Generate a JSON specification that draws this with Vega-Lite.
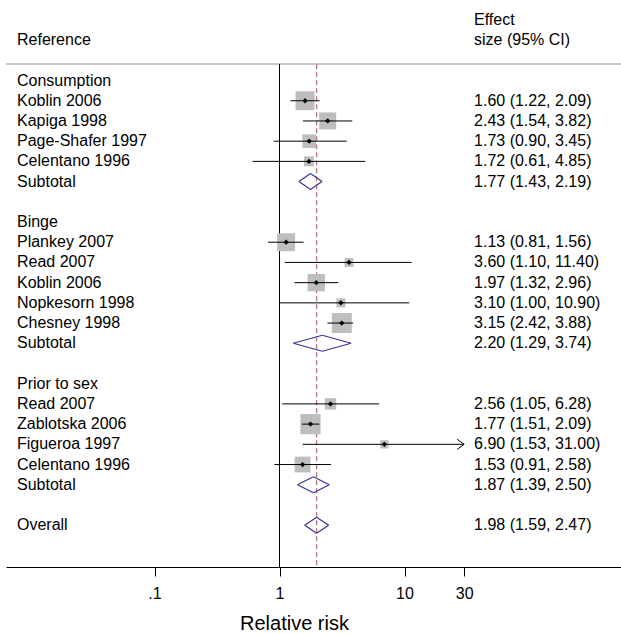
{
  "$schema": "https://vega.github.io/schema/vega-lite/v6.json",
  "width": 615,
  "height": 567,
  "autosize": {"type": "none"},
  "padding": {"left": 6, "top": 0, "right": 0, "bottom": 67},
  "background": "white",
  "config": {
    "view": {"stroke": null},
    "font": "Liberation Sans",
    "text": {"font": "Liberation Sans", "fontSize": 16, "color": "black"}
  },
  "data": {
    "values": [
      {"row": -3, "label": "", "right": "Effect", "type": "header"},
      {"row": -2, "label": "Reference", "right": "size (95% CI)", "type": "header"},
      {"row": 0, "label": "Consumption", "type": "group"},
      {"row": 1, "label": "Koblin 2006", "est": 1.60, "lo": 1.22, "hi": 2.09, "w": 3.6, "type": "study"},
      {"row": 2, "label": "Kapiga 1998", "est": 2.43, "lo": 1.54, "hi": 3.82, "w": 2.9, "type": "study"},
      {"row": 3, "label": "Page-Shafer 1997", "est": 1.73, "lo": 0.90, "hi": 3.45, "w": 1.9, "type": "study"},
      {"row": 4, "label": "Celentano 1996", "est": 1.72, "lo": 0.61, "hi": 4.85, "w": 1.0, "type": "study"},
      {"row": 5, "label": "Subtotal", "est": 1.77, "lo": 1.43, "hi": 2.19, "type": "pooled"},
      {"row": 7, "label": "Binge", "type": "group"},
      {"row": 8, "label": "Plankey 2007", "est": 1.13, "lo": 0.81, "hi": 1.56, "w": 3.2, "type": "study"},
      {"row": 9, "label": "Read 2007", "est": 3.60, "lo": 1.10, "hi": 11.40, "w": 0.8, "type": "study"},
      {"row": 10, "label": "Koblin 2006", "est": 1.97, "lo": 1.32, "hi": 2.96, "w": 3.0, "type": "study"},
      {"row": 11, "label": "Nopkesorn 1998", "est": 3.10, "lo": 1.00, "hi": 10.90, "w": 0.8, "type": "study"},
      {"row": 12, "label": "Chesney 1998", "est": 3.15, "lo": 2.42, "hi": 3.88, "w": 4.0, "type": "study"},
      {"row": 13, "label": "Subtotal", "est": 2.20, "lo": 1.29, "hi": 3.74, "type": "pooled"},
      {"row": 15, "label": "Prior to sex", "type": "group"},
      {"row": 16, "label": "Read 2007", "est": 2.56, "lo": 1.05, "hi": 6.28, "w": 1.3, "type": "study"},
      {"row": 17, "label": "Zablotska 2006", "est": 1.77, "lo": 1.51, "hi": 2.09, "w": 4.1, "type": "study"},
      {"row": 18, "label": "Figueroa 1997", "est": 6.90, "lo": 1.53, "hi": 31.00, "w": 0.7, "type": "study"},
      {"row": 19, "label": "Celentano 1996", "est": 1.53, "lo": 0.91, "hi": 2.58, "w": 2.5, "type": "study"},
      {"row": 20, "label": "Subtotal", "est": 1.87, "lo": 1.39, "hi": 2.50, "type": "pooled"},
      {"row": 22, "label": "Overall", "est": 1.98, "lo": 1.59, "hi": 2.47, "type": "overall"}
    ]
  },
  "transform": [
    {"calculate": "isValid(datum.est) ? format(datum.est, '.2f') + ' (' + format(datum.lo, '.2f') + ', ' + format(datum.hi, '.2f') + ')' : (isValid(datum.right) ? datum.right : '')", "as": "ci"},
    {"calculate": "isValid(datum.hi) ? min(datum.hi, 30) : null", "as": "hi_c"}
  ],
  "layer": [
    {
      "mark": {"type": "rule", "color": "#c8c8c8", "strokeWidth": 1.5},
      "encoding": {
        "y": {"datum": -0.8, "type": "quantitative", "scale": {"domain": [-3.985, 24.07], "reverse": true, "nice": false, "zero": false}, "axis": null}
      }
    },
    {
      "mark": {"type": "rule", "color": "black", "strokeWidth": 1},
      "encoding": {
        "x": {"datum": 1, "type": "quantitative",
          "scale": {"type": "log", "domain": [0.006486, 539.5], "nice": false},
          "axis": {"title": "Relative risk", "values": [0.1, 1, 10, 30], "grid": false,
            "labelExpr": "datum.value < 1 ? '.1' : format(datum.value, 'd')",
            "domainColor": "black", "domainWidth": 1, "tickColor": "black", "tickSize": 9, "tickWidth": 1,
            "labelFont": "Liberation Sans", "labelFontSize": 16, "labelColor": "black", "labelPadding": 9,
            "labelFlush": false, "labelOverlap": false,
            "titleFont": "Liberation Sans", "titleFontSize": 20, "titleFontWeight": "normal", "titleColor": "black",
            "titleX": 288, "titleY": 56, "titleBaseline": "middle", "titleAlign": "center"}},
        "y": {"datum": -0.8, "type": "quantitative"},
        "y2": {"datum": 24.07}
      }
    },
    {
      "transform": [{"filter": "datum.type == 'overall'"}],
      "mark": {"type": "rule", "color": "#bd727a", "strokeWidth": 1.3, "strokeDash": [5, 3]},
      "encoding": {
        "x": {"field": "est", "type": "quantitative"},
        "y": {"datum": -0.8, "type": "quantitative"},
        "y2": {"datum": 24.07}
      }
    },
    {
      "transform": [{"filter": "datum.type == 'study'"}],
      "mark": {"type": "point", "shape": "square", "filled": true, "color": "#bebebe", "opacity": 1},
      "encoding": {
        "x": {"field": "est", "type": "quantitative"},
        "y": {"field": "row", "type": "quantitative"},
        "size": {"field": "w", "type": "quantitative", "scale": {"type": "linear", "domain": [0, 4], "range": [0, 400], "zero": true}, "legend": null}
      }
    },
    {
      "transform": [{"filter": "datum.type == 'study'"}],
      "mark": {"type": "rule", "color": "black", "strokeWidth": 1},
      "encoding": {
        "x": {"field": "lo", "type": "quantitative"},
        "x2": {"field": "hi_c"},
        "y": {"field": "row", "type": "quantitative"}
      }
    },
    {
      "transform": [{"filter": "datum.type == 'study'"}],
      "mark": {"type": "point", "shape": "diamond", "filled": true, "color": "black", "size": 28, "opacity": 1},
      "encoding": {
        "x": {"field": "est", "type": "quantitative"},
        "y": {"field": "row", "type": "quantitative"}
      }
    },
    {
      "transform": [{"filter": "datum.type == 'study' && datum.hi > 30"}],
      "mark": {"type": "point", "shape": "M-1.4,-1L0,0L-1.4,1", "filled": false, "color": "black", "strokeWidth": 1, "size": 100, "opacity": 1},
      "encoding": {
        "x": {"field": "hi_c", "type": "quantitative"},
        "y": {"field": "row", "type": "quantitative"}
      }
    },
    {
      "transform": [{"filter": "datum.type == 'pooled' || datum.type == 'overall'"}],
      "mark": {"type": "rule", "color": "#3b3494", "strokeWidth": 1.2, "y2Offset": -8},
      "encoding": {
        "x": {"field": "lo", "type": "quantitative"},
        "x2": {"field": "est"},
        "y": {"field": "row", "type": "quantitative"},
        "y2": {"field": "row"}
      }
    },
    {
      "transform": [{"filter": "datum.type == 'pooled' || datum.type == 'overall'"}],
      "mark": {"type": "rule", "color": "#3b3494", "strokeWidth": 1.2, "y2Offset": 8},
      "encoding": {
        "x": {"field": "lo", "type": "quantitative"},
        "x2": {"field": "est"},
        "y": {"field": "row", "type": "quantitative"},
        "y2": {"field": "row"}
      }
    },
    {
      "transform": [{"filter": "datum.type == 'pooled' || datum.type == 'overall'"}],
      "mark": {"type": "rule", "color": "#3b3494", "strokeWidth": 1.2, "yOffset": -8},
      "encoding": {
        "x": {"field": "est", "type": "quantitative"},
        "x2": {"field": "hi"},
        "y": {"field": "row", "type": "quantitative"},
        "y2": {"field": "row"}
      }
    },
    {
      "transform": [{"filter": "datum.type == 'pooled' || datum.type == 'overall'"}],
      "mark": {"type": "rule", "color": "#3b3494", "strokeWidth": 1.2, "yOffset": 8},
      "encoding": {
        "x": {"field": "est", "type": "quantitative"},
        "x2": {"field": "hi"},
        "y": {"field": "row", "type": "quantitative"},
        "y2": {"field": "row"}
      }
    },
    {
      "mark": {"type": "text", "align": "left", "baseline": "middle", "fontSize": 16},
      "encoding": {
        "x": {"datum": 0.00794, "type": "quantitative"},
        "y": {"field": "row", "type": "quantitative"},
        "text": {"field": "label"}
      }
    },
    {
      "mark": {"type": "text", "align": "left", "baseline": "middle", "fontSize": 16},
      "encoding": {
        "x": {"datum": 36, "type": "quantitative"},
        "y": {"field": "row", "type": "quantitative"},
        "text": {"field": "ci"}
      }
    }
  ]
}
